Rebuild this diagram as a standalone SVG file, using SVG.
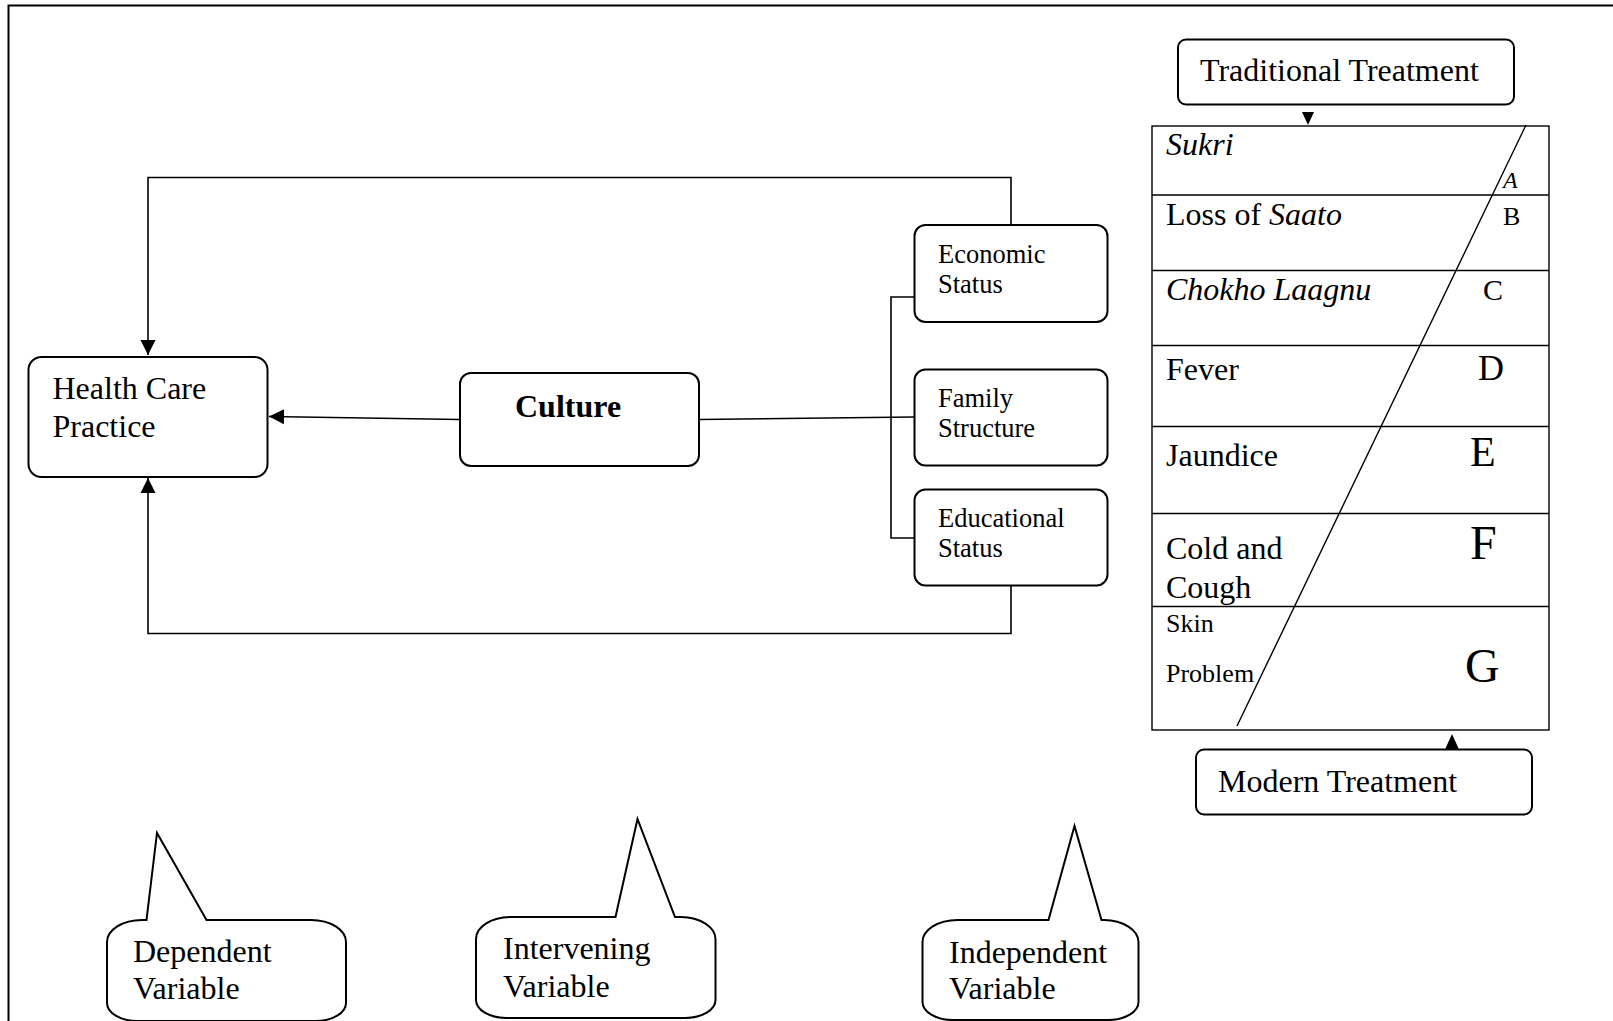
<svg xmlns="http://www.w3.org/2000/svg" width="1613" height="1021" viewBox="0 0 1613 1021">
  <style>
    text { font-family: "Liberation Serif", "Times New Roman", serif; fill: #000; }
    .box { fill: #fff; stroke: #000; stroke-width: 2; }
    .conn { fill: none; stroke: #000; stroke-width: 1.6; }
    .grid { fill: none; stroke: #000; stroke-width: 1.4; }
    .t32 { font-size: 32px; }
    .t26 { font-size: 26.5px; }
    .it { font-style: italic; }
  </style>
  <defs>
    <marker id="arrow" markerUnits="userSpaceOnUse" markerWidth="16" markerHeight="16" viewBox="0 0 16 16" refX="15" refY="8" orient="auto">
      <path d="M0,0.5 L15,8 L0,15.5 Z" fill="#000"/>
    </marker>
  </defs>

  <rect width="1613" height="1021" fill="#fff"/>
  <!-- page frame (runs off the right and bottom edges) -->
  <path d="M8.5,1025 V5.5 H1620" fill="none" stroke="#000" stroke-width="2"/>

  <!-- connectors -->
  <g id="connectors">
    <path class="conn" d="M1011,225 V177.5 H148 V355" marker-end="url(#arrow)"/>
    <path class="conn" d="M1011,585 V633.5 H148 V478" marker-end="url(#arrow)"/>
    <path class="conn" d="M460,419.5 L269,416.5" marker-end="url(#arrow)"/>
    <path class="conn" d="M699,419.5 L914,417"/>
    <path class="conn" d="M914,297 H891 V538 H914"/>
    <polygon points="1302,112 1314,112 1308,125" fill="#000"/>
    <polygon points="1445,749.5 1459,749.5 1452,734" fill="#000"/>
  </g>

  <!-- dependent variable -->
  <g id="health-care">
    <rect class="box" x="28.5" y="357" width="239" height="120" rx="13" ry="13"/>
    <text class="t32" x="52.5" y="399">Health Care</text>
    <text class="t32" x="52.5" y="437">Practice</text>
  </g>

  <!-- intervening variable -->
  <g id="culture">
    <rect class="box" x="460" y="373" width="239" height="93" rx="11" ry="11"/>
    <text x="515" y="417" style="font-size:32px;font-weight:bold">Culture</text>
  </g>

  <!-- independent variables -->
  <g id="economic-status">
    <rect class="box" x="914.5" y="225" width="193" height="97" rx="11" ry="11"/>
    <text class="t26" x="938" y="263">Economic</text>
    <text class="t26" x="938" y="293">Status</text>
  </g>
  <g id="family-structure">
    <rect class="box" x="914.5" y="369.5" width="193" height="96" rx="11" ry="11"/>
    <text class="t26" x="938" y="407">Family</text>
    <text class="t26" x="938" y="437">Structure</text>
  </g>
  <g id="educational-status">
    <rect class="box" x="914.5" y="489.5" width="193" height="96" rx="11" ry="11"/>
    <text class="t26" x="938" y="527">Educational</text>
    <text class="t26" x="938" y="557">Status</text>
  </g>

  <!-- treatment boxes -->
  <g id="traditional-treatment">
    <rect class="box" x="1178" y="39.5" width="336" height="65" rx="8" ry="8"/>
    <text class="t32" x="1200" y="81">Traditional Treatment</text>
  </g>
  <g id="modern-treatment">
    <rect class="box" x="1196" y="749.5" width="336" height="65" rx="8" ry="8"/>
    <text class="t32" x="1218" y="792">Modern Treatment</text>
  </g>

  <!-- illness table -->
  <g id="illness-table">
    <rect class="grid" x="1152" y="126" width="397" height="604"/>
    <path class="grid" d="M1152,195 H1549 M1152,270.5 H1549 M1152,345.5 H1549 M1152,426.5 H1549 M1152,513.5 H1549 M1152,606.5 H1549"/>
    <line class="grid" x1="1526" y1="125" x2="1237" y2="726"/>

    <text class="t32 it" x="1166" y="155">Sukri</text>
    <text class="it" x="1503" y="188" style="font-size:24px">A</text>

    <text class="t32" x="1166" y="224.5">Loss of <tspan class="it">Saato</tspan></text>
    <text x="1503" y="224.5" style="font-size:26px">B</text>

    <text class="t32 it" x="1166" y="300">Chokho Laagnu</text>
    <text x="1483" y="300" style="font-size:30px">C</text>

    <text class="t32" x="1166" y="379.5">Fever</text>
    <text x="1478" y="379.5" style="font-size:36px">D</text>

    <text class="t32" x="1166" y="466">Jaundice</text>
    <text x="1470" y="466" style="font-size:42px">E</text>

    <text class="t32" x="1166" y="558.5">Cold and</text>
    <text class="t32" x="1166" y="598">Cough</text>
    <text x="1470" y="558.5" style="font-size:48px">F</text>

    <text x="1166" y="632" style="font-size:26px">Skin</text>
    <text x="1166" y="682" style="font-size:26px">Problem</text>
    <text x="1465" y="682" style="font-size:48px">G</text>
  </g>

  <!-- variable-type callouts -->
  <g id="dependent-variable">
    <path class="box" d="M146.5,920 L157,833 L206.5,920 L311,920 A35,22 0 0 1 346,942 L346,1003 A30,18 0 0 1 316,1021 L137,1021 A30,18 0 0 1 107,1003 L107,942 A35,22 0 0 1 142,920 Z"/>
    <text class="t32" x="133" y="962">Dependent</text>
    <text class="t32" x="133" y="999">Variable</text>
  </g>
  <g id="intervening-variable">
    <path class="box" d="M615.5,917 L637.5,819 L675,917 L681,917 A35,22 0 0 1 715.5,939 L715.5,1000 A30,18 0 0 1 685.5,1018 L506,1018 A30,18 0 0 1 476,1000 L476,939 A35,22 0 0 1 511,917 Z"/>
    <text class="t32" x="503" y="959">Intervening</text>
    <text class="t32" x="503" y="997">Variable</text>
  </g>
  <g id="independent-variable">
    <path class="box" d="M1048.5,920 L1074.5,826 L1101.5,920 L1104,920 A35,22 0 0 1 1138.5,942 L1138.5,1002 A30,18 0 0 1 1108.5,1020 L952.5,1020 A30,18 0 0 1 922.5,1002 L922.5,942 A35,22 0 0 1 957.5,920 Z"/>
    <text class="t32" x="949" y="962.5">Independent</text>
    <text class="t32" x="949" y="999">Variable</text>
  </g>
</svg>
